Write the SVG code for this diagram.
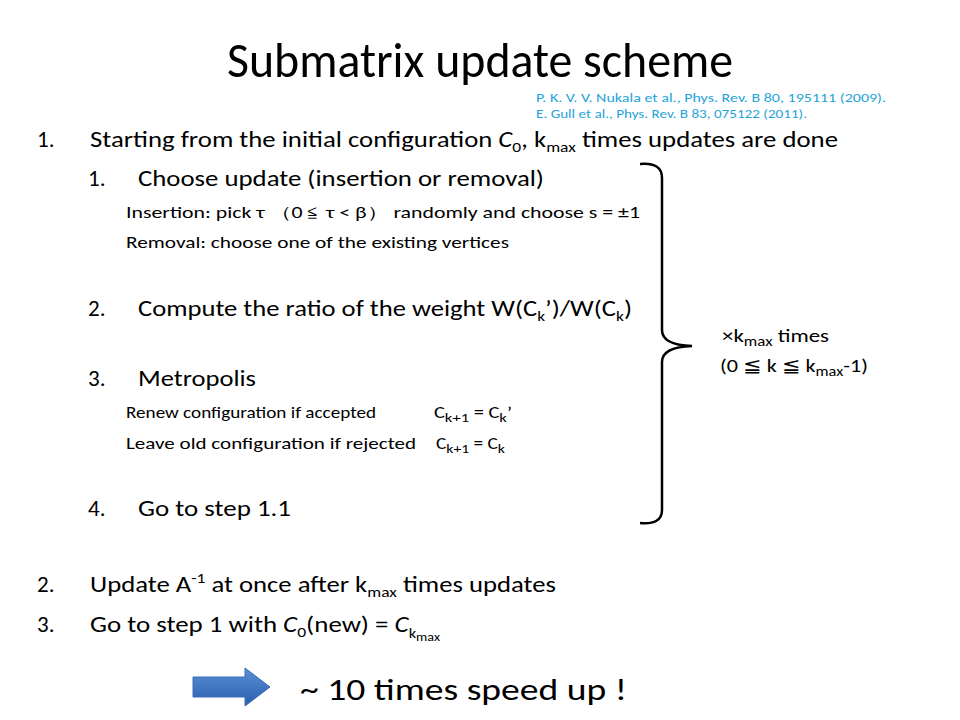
<svg xmlns="http://www.w3.org/2000/svg" width="960" height="720" viewBox="0 0 960 720">
<defs>
<style>
text{font-family:Carlito,Lato,"Open Sans",sans-serif;fill:#000}
.title{font-size:50px}
.ref{font-size:13px;fill:#1ea3d9}
.l1{font-size:23px}
.l3{font-size:16px}
.side{font-size:19px}
.big{font-size:31px}
.it{font-style:italic}
</style>
<linearGradient id="ag" x1="0" y1="0" x2="0" y2="1">
<stop offset="0" stop-color="#5a8fd6"/>
<stop offset="1" stop-color="#2a5fae"/>
</linearGradient>
</defs>
<rect width="960" height="720" fill="#fff"/>
<g id="title"><text class="title" x="227" y="77" textLength="506" lengthAdjust="spacingAndGlyphs">Submatrix update scheme</text></g>
<g id="refs">
<text class="ref" x="536" y="102" textLength="350" lengthAdjust="spacingAndGlyphs">P. K. V. V. Nukala et al., Phys. Rev. B 80, 195111 (2009).</text>
<text class="ref" x="536" y="118" textLength="271" lengthAdjust="spacingAndGlyphs">E. Gull et al., Phys. Rev. B 83, 075122 (2011).</text>
</g>
<g id="item1">
<text class="l1" x="37" y="147">1.</text>
<text class="l1" x="90" y="147" textLength="748" lengthAdjust="spacingAndGlyphs">Starting from the initial configuration <tspan class="it">C</tspan><tspan font-size="15" dy="5">0</tspan><tspan dy="-5">, k</tspan><tspan font-size="15" dy="5">max</tspan><tspan dy="-5"> times updates are done</tspan></text>
</g>
<g id="item1-1">
<text class="l1" x="88" y="186">1.</text>
<text class="l1" x="138" y="186" textLength="406" lengthAdjust="spacingAndGlyphs">Choose update (insertion or removal)</text>
<text class="l3" x="126" y="218" textLength="514" lengthAdjust="spacingAndGlyphs">Insertion:  pick τ （0 ≦ τ &lt; β） randomly and choose s = ±1</text>
<text class="l3" x="126" y="248" textLength="383" lengthAdjust="spacingAndGlyphs">Removal: choose one of the existing vertices</text>
</g>
<g id="item1-2">
<text class="l1" x="88" y="316">2.</text>
<text class="l1" x="138" y="316" textLength="494" lengthAdjust="spacingAndGlyphs">Compute the ratio of the weight W(C<tspan font-size="15" dy="5">k</tspan><tspan dy="-5">’)/W(C</tspan><tspan font-size="15" dy="5">k</tspan><tspan dy="-5">)</tspan></text>
</g>
<g id="item1-3">
<text class="l1" x="88" y="386">3.</text>
<text class="l1" x="138" y="386" textLength="118" lengthAdjust="spacingAndGlyphs">Metropolis</text>
<text class="l3" x="126" y="418" textLength="250" lengthAdjust="spacingAndGlyphs">Renew configuration if accepted</text>
<text class="l3" x="434" y="418" textLength="78" lengthAdjust="spacingAndGlyphs">C<tspan font-size="13" dy="4">k+1</tspan><tspan dy="-4"> = C</tspan><tspan font-size="13" dy="4">k</tspan><tspan dy="-4">’</tspan></text>
<text class="l3" x="126" y="449" textLength="290" lengthAdjust="spacingAndGlyphs">Leave old configuration if rejected</text>
<text class="l3" x="436" y="449" textLength="69" lengthAdjust="spacingAndGlyphs">C<tspan font-size="13" dy="4">k+1</tspan><tspan dy="-4"> = C</tspan><tspan font-size="13" dy="4">k</tspan></text>
</g>
<g id="item1-4">
<text class="l1" x="88" y="516">4.</text>
<text class="l1" x="138" y="516" textLength="153" lengthAdjust="spacingAndGlyphs">Go to step 1.1</text>
</g>
<g id="item2">
<text class="l1" x="37" y="592">2.</text>
<text class="l1" x="90" y="592" textLength="466" lengthAdjust="spacingAndGlyphs">Update A<tspan font-size="15" dy="-9">-1</tspan><tspan dy="9"> at once after k</tspan><tspan font-size="15" dy="5">max</tspan><tspan dy="-5"> times updates</tspan></text>
</g>
<g id="item3">
<text class="l1" x="37" y="632">3.</text>
<text class="l1" x="90" y="632" textLength="350" lengthAdjust="spacingAndGlyphs">Go to step 1 with <tspan class="it">C</tspan><tspan font-size="15" dy="5">0</tspan><tspan dy="-5">(new) = </tspan><tspan class="it">C</tspan><tspan font-size="14" dy="6">k</tspan><tspan font-size="12" dy="3">max</tspan></text>
</g>
<g id="brace">
<path d="M640,164 Q662,162 662,178 L662,330 Q662,345 692,346 Q662,347 662,362 L662,510 Q662,525 640,523" fill="none" stroke="#000" stroke-width="2.5"/>
</g>
<g id="brace-label">
<text class="side" x="722" y="342" textLength="107" lengthAdjust="spacingAndGlyphs">×k<tspan font-size="14" dy="4">max</tspan><tspan dy="-4"> times</tspan></text>
<text class="side" x="720" y="372" textLength="148" lengthAdjust="spacingAndGlyphs">(0 ≦ k ≦ k<tspan font-size="14" dy="4">max</tspan><tspan dy="-4">-1)</tspan></text>
</g>
<g id="speedup">
<path d="M193,677 L245,677 L245,668 L270,687 L245,706 L245,697 L193,697 Z" fill="url(#ag)" stroke="#3a6cb8" stroke-width="1"/>
<text class="big" x="300" y="700" textLength="327" lengthAdjust="spacingAndGlyphs">~ 10 times speed up !</text>
</g>
</svg>
